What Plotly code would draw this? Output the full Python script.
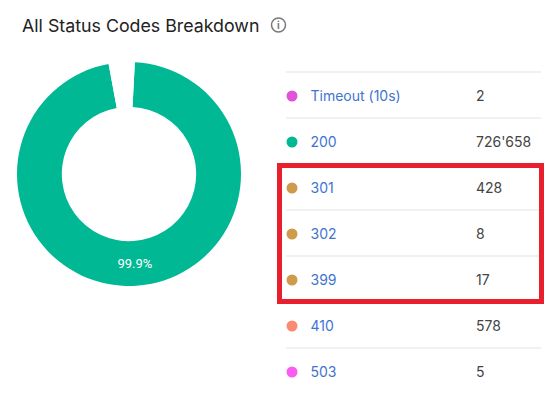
import plotly.graph_objects as go

title = "All Status Codes Breakdown"
codes = ["Timeout (10s)", "200", "301", "302", "399", "410", "503"]
counts = [2, 726658, 428, 8, 17, 578, 5]
dot_colors = ["#E052D8", "#00B894", "#CF9A4C", "#CF9A4C", "#CF9A4C", "#FB8A73", "#FB5CF2"]

# Donut as drawn: the green slice and the blank wedge (in degrees)
donut_labels = ["200", "Other"]
donut_sweep = [346.5, 13.5]
donut_text = ["99.9%", ""]
donut_colors = ["#00B894", "#FFFFFF"]

FONT = "Inter"
W, H = 546, 395
rows = list(range(len(codes)))
ROW0, ROWH = 96, 46


def py(p):  # pixel -> row axis
    return (p - ROW0) / ROWH


fig = go.Figure()
fig.add_trace(go.Pie(
    labels=donut_labels, values=donut_sweep, text=donut_text, textinfo="text",
    textposition="inside", insidetextorientation="horizontal",
    textfont=dict(family="Roboto", size=13, color="#FFFFFF"),
    hole=0.6, sort=False, direction="clockwise", rotation=3,
    marker=dict(colors=donut_colors, line=dict(width=0)),
    domain=dict(x=[17 / W, 241 / W], y=[1 - 286 / H, 1 - 62 / H]),
    showlegend=False, hoverinfo="skip",
))
fig.add_trace(go.Scatter(
    x=[292] * len(rows), y=rows, mode="markers",
    marker=dict(size=11, color=dot_colors, line=dict(width=0)),
    showlegend=False, hoverinfo="skip",
))
fig.add_trace(go.Scatter(
    x=[310.5] * len(rows), y=[r + 1 / ROWH for r in rows], mode="text", text=codes, textposition="middle right",
    textfont=dict(family=FONT, size=14, color="#3F74D0"),
    showlegend=False, hoverinfo="skip",
))
fig.add_trace(go.Scatter(
    x=[476] * len(rows), y=[r + 1 / ROWH for r in rows], mode="text",
    text=[f"{c:,}".replace(",", "'") for c in counts], textposition="middle right",
    textfont=dict(family=FONT, size=14, color="#444444"),
    showlegend=False, hoverinfo="skip",
))

shapes = []
for p in [72, 118, 164, 210, 256, 302, 348]:
    shapes.append(dict(type="line", xref="x", yref="y", x0=286, x1=541, y0=py(p), y1=py(p),
                       line=dict(color="#E3E3E3", width=1), layer="below"))
shapes.append(dict(type="rect", xref="x", yref="y", x0=279.5, x1=541.5, y0=py(165.5), y1=py(301.5),
                   line=dict(color="#E8202E", width=5)))
shapes.append(dict(type="circle", xref="x", yref="y", x0=271.5, x1=285.5, y0=py(18), y1=py(32),
                   line=dict(color="#7A7A7A", width=1.5)))

fig.update_layout(
    width=W, height=H, autosize=False,
    margin=dict(l=0, r=0, t=0, b=0),
    paper_bgcolor="#FFFFFF", plot_bgcolor="#FFFFFF",
    xaxis=dict(range=[0, W], visible=False, fixedrange=True),
    yaxis=dict(range=[py(H), py(0)], visible=False, fixedrange=True),
    shapes=shapes,
    annotations=[
        dict(text=title, xref="x", yref="y", x=19.5, y=py(25), xanchor="left", yanchor="middle",
             showarrow=False, font=dict(family=FONT, size=17.8, color="#222222")),
        dict(text="<b>i</b>", xref="x", yref="y", x=278.5, y=py(25), xanchor="center", yanchor="middle",
             showarrow=False, font=dict(family=FONT, size=10, color="#7A7A7A")),
    ],
)
fig.write_html("out.html", config=dict(displayModeBar=False),
               post_script="document.body.style.margin='0';document.body.style.overflow='hidden';")
